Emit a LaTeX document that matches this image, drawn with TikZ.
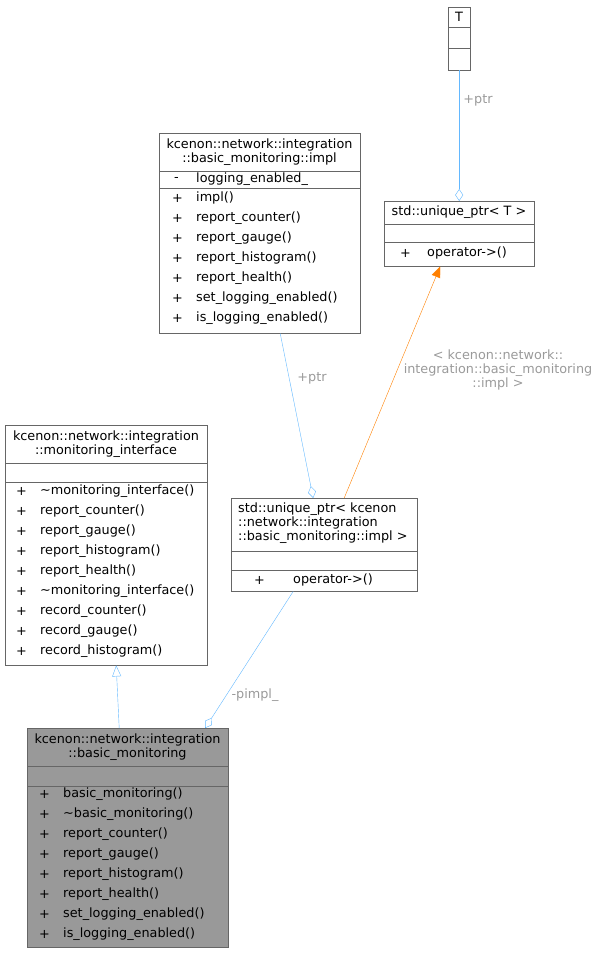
\documentclass[tikz,border=0pt]{standalone}
\usepackage{fontspec}
\setmainfont{DejaVu Sans}
\usetikzlibrary{arrows.meta}
\definecolor{edgeblue}{HTML}{63B8FF}
\definecolor{lblgray}{HTML}{9A9A9A}
\definecolor{boxgray}{HTML}{999999}
\definecolor{linegray}{HTML}{666666}
\begin{document}
\begin{tikzpicture}[x=1pt,y=-1pt,font=\fontsize{12.8}{14}\selectfont,
    cls/.style={draw=linegray,inner sep=0pt,anchor=north west},
    txt/.style={inner sep=0pt,anchor=west},
    ttl/.style={inner sep=0pt,align=center},
    lbl/.style={inner sep=0pt,text=lblgray,align=center},
    assoc/.style={draw=edgeblue,-{Diamond[open,length=12pt,width=8pt]}},
    inherit/.style={draw=edgeblue,-{Triangle[open,length=11pt,width=9pt]}},
    tmpl/.style={draw=orange,-{Triangle[length=11pt,width=9pt]}}]
    \useasboundingbox (0,0) rectangle (601,953);

    % Template parameter T
    \node[cls,minimum width=22,minimum height=63] (T) at (448,7) {};
    \draw[linegray] (448,27) -- (470,27) (448,48) -- (470,48);
    \node[ttl] (Tt) at (459,17) {T};

    % std::unique_ptr< T >
    \node[cls,minimum width=150,minimum height=65] (uptr) at (384,201) {};
    \draw[linegray] (384,224) -- (534,224) (384,242) -- (534,242);
    \node[ttl] (uptrt) at (459,212) {std::unique\_ptr< T >};
    \node[txt] (uptrp) at (400,253) {+};
    \node[txt] (uptrm) at (427,253) {operator->()};

    % impl
    \node[cls,minimum width=201,minimum height=200] (impl) at (159,133) {};
    \draw[linegray] (159,171) -- (360,171) (159,188) -- (360,188);
    \node[ttl] (implt) at (259.5,152) {kcenon::network::integration\\::basic\_monitoring::impl};
    \node[txt] (impla) at (174,179) {-};
    \node[txt] (implav) at (196,179) {logging\_enabled\_};
    \foreach \m [count=\i from 0] in {impl(),report\_counter(),report\_gauge(),report\_histogram(),
        report\_health(),set\_logging\_enabled(),is\_logging\_enabled()} {
      \node[txt] (implp\i) at (172,198+20*\i) {+};
      \node[txt] (implm\i) at (196,198+20*\i) {\m};
    }

    % monitoring_interface
    \node[cls,minimum width=202,minimum height=240] (mon) at (5,425) {};
    \draw[linegray] (5,463) -- (207,463) (5,482) -- (207,482);
    \node[ttl] (mont) at (106,444) {kcenon::network::integration\\::monitoring\_interface};
    \foreach \m [count=\i from 0] in {\char`~monitoring\_interface(),report\_counter(),report\_gauge(),
        report\_histogram(),report\_health(),\char`~monitoring\_interface(),record\_counter(),
        record\_gauge(),record\_histogram()} {
      \node[txt] (monp\i) at (16,491+20*\i) {+};
      \node[txt] (monm\i) at (40,491+20*\i) {\m};
    }

    % std::unique_ptr< impl >
    \node[cls,minimum width=186,minimum height=93] (uimpl) at (231,498) {};
    \draw[linegray] (231,551) -- (417,551) (231,570) -- (417,570);
    \node[ttl,align=left,anchor=north west] (uimplt) at (238,503)
      {std::unique\_ptr< kcenon\\::network::integration\\::basic\_monitoring::impl >};
    \node[txt] (uimplp) at (254,580) {+};
    \node[txt] (uimplm) at (293,580) {operator->()};

    % basic_monitoring
    \node[cls,fill=boxgray,minimum width=201,minimum height=219] (bm) at (27,728) {};
    \draw[linegray] (27,766) -- (228,766) (27,786) -- (228,786);
    \node[ttl] (bmt) at (127.5,747) {kcenon::network::integration\\::basic\_monitoring};
    \foreach \m [count=\i from 0] in {basic\_monitoring(),\char`~basic\_monitoring(),report\_counter(),
        report\_gauge(),report\_histogram(),report\_health(),set\_logging\_enabled(),is\_logging\_enabled()} {
      \node[txt] (bmp\i) at (39,794+20*\i) {+};
      \node[txt] (bmm\i) at (63,794+20*\i) {\m};
    }

    % Connectors
    \draw[assoc] (T.south) -- (uptr.north);
    \node[lbl] (lptr1) at (478,100) {+ptr};
    \draw[assoc] ([xshift=20.5]impl.south) -- ([xshift=-11]uimpl.north);
    \node[lbl] (lptr2) at (312,378) {+ptr};
    \draw[tmpl] ([xshift=20]uimpl.north) -- ([xshift=-19]uptr.south);
    \node[lbl] (ltmpl) at (498,370) {< kcenon::network::\\integration::basic\_monitoring\\::impl >};
    \draw[inherit] ([xshift=-8.5]bm.north) -- ([xshift=10]mon.south);
    \draw[assoc] ([xshift=-31]uimpl.south) -- ([xshift=77.5]bm.north);
    \node[lbl] (lpimpl) at (255,695) {-pimpl\_};
\end{tikzpicture}
\end{document}
